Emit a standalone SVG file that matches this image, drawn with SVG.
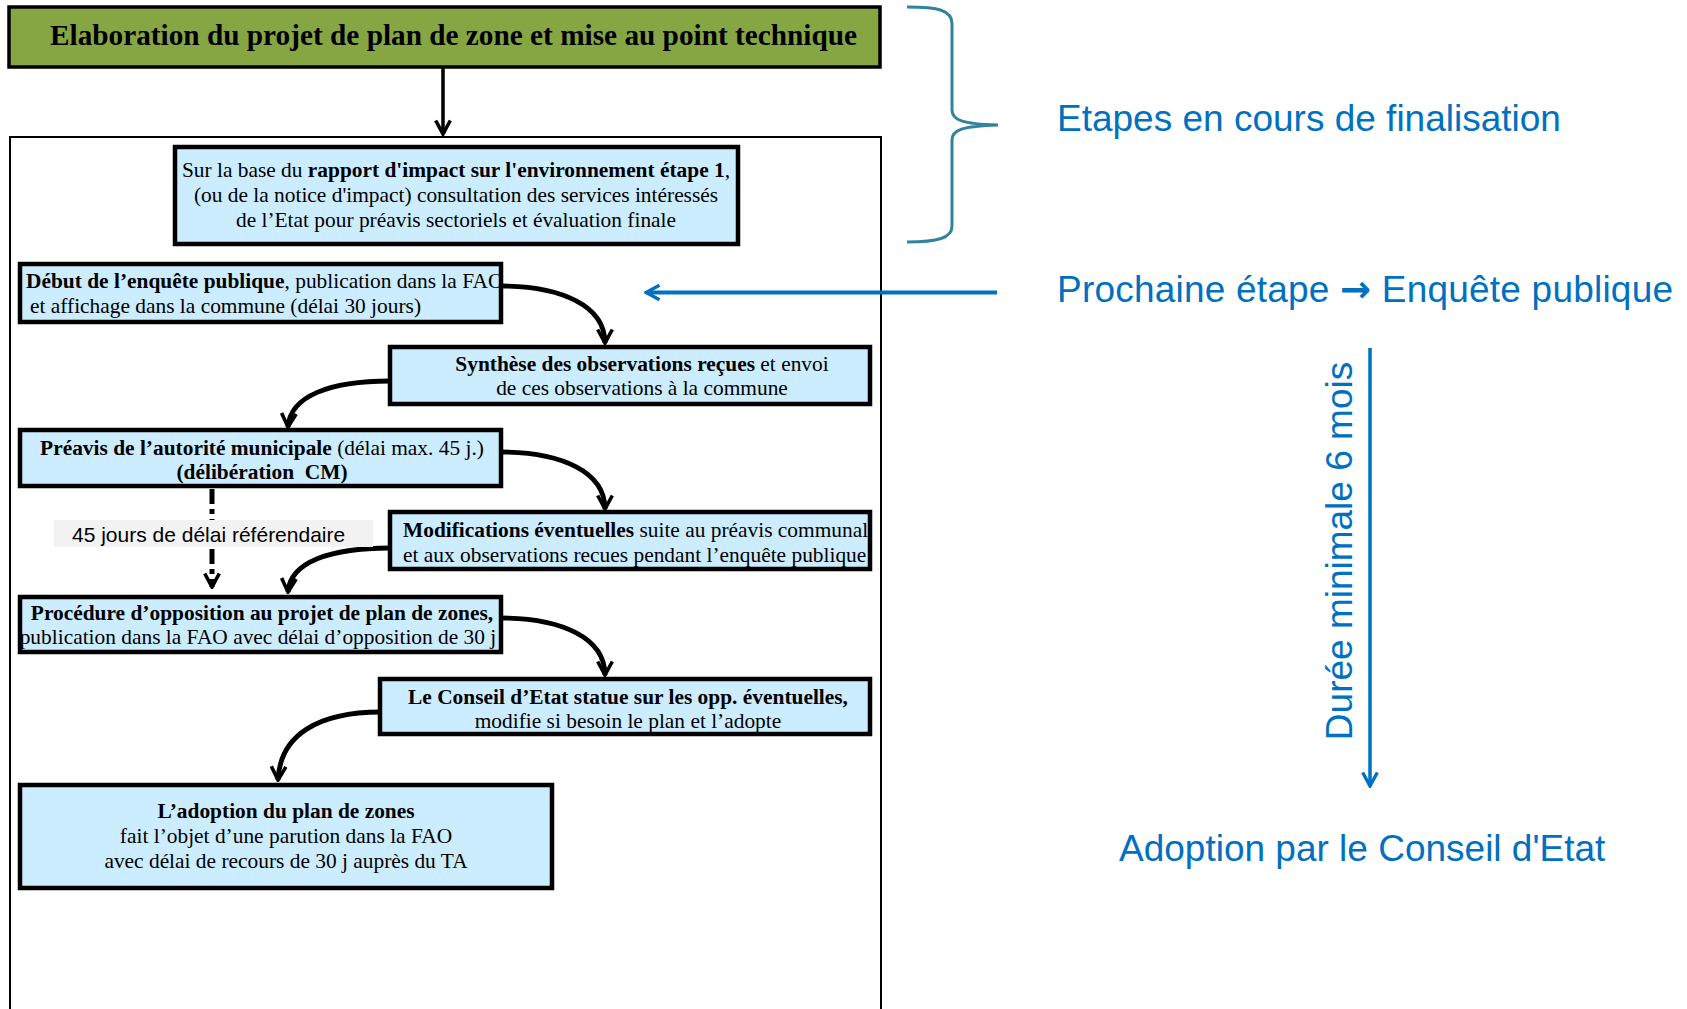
<svg xmlns="http://www.w3.org/2000/svg" width="1687" height="1009" viewBox="0 0 1687 1009">
<style>
.bx{fill:#CCECFF;stroke:none}
.bd{fill:none;stroke:#000;stroke-width:4.5}
.t{font-family:"Liberation Serif","Times New Roman",serif;font-size:21.4px;fill:#000}
.b{font-weight:bold}
.s{font-family:"Liberation Sans",Arial,sans-serif;fill:#0070C0;font-size:37px}
.con{fill:none;stroke:#000;stroke-width:4.8}
</style>
<defs>
<marker id="ah" viewBox="0 0 16 16" refX="14" refY="8" markerWidth="18" markerHeight="18" markerUnits="userSpaceOnUse" orient="auto">
<path d="M2,1.5 L14,8 L2,14.5" fill="none" stroke="#000" stroke-width="3.2"/>
</marker>
<marker id="ahb" viewBox="0 0 16 16" refX="14" refY="8" markerWidth="18" markerHeight="18" markerUnits="userSpaceOnUse" orient="auto">
<path d="M2,1.5 L14,8 L2,14.5" fill="none" stroke="#0070C0" stroke-width="3"/>
</marker>
</defs>
<rect width="1687" height="1009" fill="#fff"/>

<g id="outer">
<rect x="10" y="137" width="871" height="900" fill="none" stroke="#000" stroke-width="2"/>
</g>

<g id="connectors">
<line x1="443" y1="67" x2="443" y2="134" stroke="#000" stroke-width="3.5" marker-end="url(#ah)"/>
<path class="con" d="M500,286 C562,286 605,306 605,343" marker-end="url(#ah)"/>
<path class="con" d="M390,381 C330,381 290,396 288,427" marker-end="url(#ah)"/>
<path class="con" d="M500,452 C562,452 605,472 605,509" marker-end="url(#ah)"/>
<path class="con" d="M390,548 C330,548 290,562 288,592" marker-end="url(#ah)"/>
<path class="con" d="M500,618 C562,618 605,638 605,675" marker-end="url(#ah)"/>
<path class="con" d="M381,712 C318,712 280,735 278,780" marker-end="url(#ah)"/>
<line x1="212" y1="489" x2="212" y2="587" stroke="#000" stroke-width="5" stroke-dasharray="15 5 5 5" marker-end="url(#ah)"/>
<line x1="997" y1="292.5" x2="646" y2="292.5" stroke="#0070C0" stroke-width="4" marker-end="url(#ahb)"/>
<line x1="1370" y1="348" x2="1370" y2="786" stroke="#0070C0" stroke-width="3.5" marker-end="url(#ahb)"/>
</g>

<g id="title">
<rect x="9" y="7" width="871" height="60" fill="#86A543" stroke="#000" stroke-width="3.5"/>
<text class="t b" x="50" y="45" style="font-size:29.3px" textLength="807" lengthAdjust="spacingAndGlyphs">Elaboration du projet de plan de zone et mise au point technique</text>
</g>

<g id="n1">
<rect class="bx" x="175" y="147" width="563" height="97"/>
<text class="t" x="456" y="177" text-anchor="middle">Sur la base du <tspan class="b">rapport d'impact sur l'environnement étape 1</tspan>,</text>
<text class="t" x="456" y="202" text-anchor="middle">(ou de la notice d'impact) consultation des services intéressés</text>
<text class="t" x="456" y="227" text-anchor="middle">de l’Etat pour préavis sectoriels et évaluation finale</text>
<rect class="bd" x="175" y="147" width="563" height="97"/>
</g>

<g id="n2">
<rect class="bx" x="20" y="264" width="481" height="58"/>
<text class="t" x="26" y="288"><tspan class="b">Début de l’enquête publique</tspan>, publication dans la FAO</text>
<text class="t" x="30" y="313">et affichage dans la commune (délai 30 jours)</text>
<rect class="bd" x="20" y="264" width="481" height="58"/>
</g>

<g id="n3">
<rect class="bx" x="390" y="347" width="480" height="57"/>
<text class="t" x="642" y="371" text-anchor="middle"><tspan class="b">Synthèse des observations reçues</tspan> et envoi</text>
<text class="t" x="642" y="395" text-anchor="middle">de ces observations à la commune</text>
<rect class="bd" x="390" y="347" width="480" height="57"/>
</g>

<g id="n4">
<rect class="bx" x="20" y="430" width="481" height="56"/>
<text class="t" x="262" y="455" text-anchor="middle"><tspan class="b">Préavis de l’autorité municipale</tspan> (délai max. 45 j.)</text>
<text class="t b" x="262" y="479" text-anchor="middle" xml:space="preserve">(délibération  CM)</text>
<rect class="bd" x="20" y="430" width="481" height="56"/>
</g>

<g id="label45">
<rect x="54" y="520" width="319" height="27" fill="#F2F2F2"/>
<text x="72" y="542" font-family="'Liberation Sans',Arial,sans-serif" font-size="21" fill="#000">45 jours de délai référendaire</text>
</g>

<g id="n5">
<rect class="bx" x="390" y="512" width="480" height="57"/>
<text class="t" x="403" y="537"><tspan class="b">Modifications éventuelles</tspan> suite au préavis communal</text>
<text class="t" x="403" y="562">et aux observations recues pendant l’enquête publique</text>
<rect class="bd" x="390" y="512" width="480" height="57"/>
</g>

<g id="n6">
<rect class="bx" x="20" y="597" width="481" height="55"/>
<text class="t b" x="262" y="620" text-anchor="middle">Procédure d’opposition au projet de plan de zones,</text>
<text class="t" x="258" y="644" text-anchor="middle">publication dans la FAO avec délai d’opposition de 30 j</text>
<rect class="bd" x="20" y="597" width="481" height="55"/>
</g>

<g id="n7">
<rect class="bx" x="380" y="679" width="490" height="55"/>
<text class="t b" x="628" y="704" text-anchor="middle">Le Conseil d’Etat statue sur les opp. éventuelles,</text>
<text class="t" x="628" y="728" text-anchor="middle">modifie si besoin le plan et l’adopte</text>
<rect class="bd" x="380" y="679" width="490" height="55"/>
</g>

<g id="n8">
<rect class="bx" x="20" y="785" width="532" height="103"/>
<text class="t b" x="286" y="818" text-anchor="middle">L’adoption du plan de zones</text>
<text class="t" x="286" y="843" text-anchor="middle">fait l’objet d’une parution dans la FAO</text>
<text class="t" x="286" y="868" text-anchor="middle">avec délai de recours de 30 j auprès du TA</text>
<rect class="bd" x="20" y="785" width="532" height="103"/>
</g>

<g id="brace">
<path d="M907,7 C938,7 952,10 952,24 L952,110 C952,120 962,124 998,125 C962,126 952,130 952,140 L952,226 C952,238 938,242 907,242" fill="none" stroke="#31849B" stroke-width="3"/>
</g>

<g id="legend">
<text class="s" x="1057" y="131">Etapes en cours de finalisation</text>
<text class="s" x="1057" y="302" textLength="616">Prochaine étape <tspan font-family="'DejaVu Sans',sans-serif" font-weight="bold">→</tspan> Enquête publique</text>
<text class="s" transform="translate(1352,551) rotate(-90)" text-anchor="middle">Durée minimale 6 mois</text>
<text class="s" x="1119" y="861">Adoption par le Conseil d'Etat</text>
</g>
</svg>
